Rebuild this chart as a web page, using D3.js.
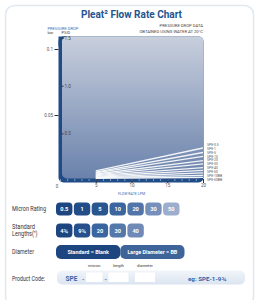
<!DOCTYPE html>
<html>
<head>
<meta charset="utf-8">
<script src="https://cdn.jsdelivr.net/npm/d3@7"></script>
<style>
  body { margin: 0; background: #fff; }
  text { font-family: Roboto, "Open Sans", sans-serif; }
</style>
</head>
<body>
<svg width="260" height="300"></svg>
<script>
// data
const flowTicks = [0, 5, 10, 15, 20];
const barTicks = [0.05, 0.1];
const psiTicks = [0.5, 1, 1.5];
const seriesNames = ['SPE-0.5', 'SPE-1', 'SPE-5', 'SPE-10', 'SPE-20', 'SPE-30', 'SPE-40', 'SPE-50', 'SPE-10BB', 'SPE-50BB'];
const flowPoints = [5, 20];
const dropAt5 = [0.0076, 0.0068, 0.0061, 0.0053, 0.0047, 0.0041, 0.0035, 0.0030, 0.0026, 0.0021];
const dropAt20 = [0.0250, 0.0216, 0.0186, 0.0155, 0.0129, 0.0102, 0.0080, 0.0061, 0.0042, 0.0027];
const micronRatings = ['0.5', '1', '5', '10', '20', '30', '50'];
const standardLengths = ['4¾', '9¾', '20', '30', '40'];
const diameters = ['Standard = Blank', 'Large Diameter = BB'];
const codeFields = ['micron', 'length', 'diameter'];

// styles
const navy = '#1f4b86';
const micronFill = ['#1d4681', '#224d89', '#2a5690', '#3a659e', '#5275a9', '#7690bb', '#9cadcd'];
const lengthFill = ['#1d4681', '#264f8b', '#3a659e', '#5578aa', '#7089b6'];
const diameterFill = ['#1d4681', '#3d6599'];

const svg = d3.select('svg');

const defs = svg.append('defs');
const grad = defs.append('linearGradient').attr('id', 'bg').attr('x1', 0).attr('y1', 0).attr('x2', 0).attr('y2', 1);
grad.append('stop').attr('offset', 0).attr('stop-color', '#c8cfdd');
grad.append('stop').attr('offset', 1).attr('stop-color', '#6a82ab');
const grad2 = defs.append('linearGradient').attr('id', 'code').attr('x1', 0).attr('y1', 0).attr('x2', 0).attr('y2', 1);
grad2.append('stop').attr('offset', 0).attr('stop-color', '#f1f5fa');
grad2.append('stop').attr('offset', 1).attr('stop-color', '#dbe4f0');

// card
svg.append('rect')
  .attr('x', 5.5).attr('y', 5.5).attr('width', 248).attr('height', 300)
  .attr('rx', 9)
  .attr('fill', 'none')
  .attr('stroke', '#e1e8f0')
  .attr('stroke-width', 1.5);

svg.append('text')
  .attr('x', 81).attr('y', 18)
  .attr('textLength', 101).attr('lengthAdjust', 'spacingAndGlyphs')
  .attr('font-family', 'Open Sans')
  .attr('font-weight', 'bold')
  .attr('font-size', 11)
  .attr('fill', '#24548f')
  .text('Pleat² Flow Rate Chart');

// scales
const x = d3.scaleLinear().domain([0, 20]).range([60, 203]);
const yBar = d3.scaleLinear().domain([0, 0.1]).range([181, 49]);
const yPsi = d3.scaleLinear().domain([0, 1.5]).range([181, 38]);

// plot area
svg.append('rect')
  .attr('x', 58.5).attr('y', 36.5).attr('width', 145).attr('height', 146)
  .attr('rx', 5).attr('fill', navy);
svg.append('rect')
  .attr('x', 58.5).attr('y', 36.5).attr('width', 10).attr('height', 10)
  .attr('fill', navy);
svg.append('rect')
  .attr('x', 62).attr('y', 36.5).attr('width', 141.5).attr('height', 142)
  .attr('rx', 5).attr('fill', 'url(#bg)');

// header notes
const small = '#444';
svg.append('text').attr('x', 47.5).attr('y', 29.5).attr('font-size', 4).attr('fill', '#3b6fb6').text('PRESSURE DROP');
svg.append('text').attr('x', 47.5).attr('y', 34).attr('font-size', 4).attr('fill', small).text('bar');
svg.append('text').attr('x', 61.5).attr('y', 34).attr('font-size', 4).attr('fill', small).text('PSID');
svg.append('text').attr('x', 203).attr('y', 27).attr('text-anchor', 'end').attr('font-size', 4.2).attr('fill', small).text('PRESSURE DROP DATA');
svg.append('text').attr('x', 203).attr('y', 33).attr('text-anchor', 'end').attr('font-size', 4.2).attr('fill', small).text('OBTAINED USING WATER AT 20°C');

// bar axis (outside left)
const barAxis = svg.append('g')
  .attr('transform', 'translate(58.5,0)')
  .call(d3.axisLeft(yBar).tickValues(barTicks).tickSize(4).tickPadding(1.5).tickFormat(d3.format('')));
barAxis.select('.domain').remove();
barAxis.selectAll('line').attr('stroke', '#333').attr('stroke-width', 1);
barAxis.selectAll('text').attr('font-size', 4.5).attr('fill', '#555').attr('font-family', 'Roboto');

// psi axis (inside left)
const psiAxis = svg.append('g')
  .attr('transform', 'translate(62,0)')
  .call(d3.axisRight(yPsi).tickValues(psiTicks).tickSize(1.5).tickPadding(1));
psiAxis.select('.domain').remove();
psiAxis.selectAll('line').attr('stroke', '#333');
psiAxis.selectAll('text').attr('font-size', 4.5).attr('fill', '#444').attr('font-family', 'Roboto');

// flow axis
const minor = svg.append('g')
  .attr('transform', 'translate(0,179)')
  .call(d3.axisBottom(x).ticks(20).tickSize(2).tickFormat(''));
minor.select('.domain').remove();
minor.selectAll('line').attr('stroke', '#c8d4e6').attr('stroke-width', 0.6);

const flowAxis = svg.append('g')
  .attr('transform', 'translate(0,179)')
  .call(d3.axisBottom(x).tickValues(flowTicks.slice(1)).tickSize(4).tickPadding(1));
flowAxis.select('.domain').remove();
flowAxis.selectAll('line').attr('stroke', '#333').attr('stroke-width', 1);
flowAxis.selectAll('text').attr('font-size', 4.5).attr('fill', '#555').attr('font-family', 'Roboto');
svg.append('text').attr('x', x(0) - 3).attr('y', 188).attr('text-anchor', 'middle')
  .attr('font-size', 4.5).attr('fill', '#555').text(flowTicks[0]);

svg.append('text').attr('x', x(10)).attr('y', 194.5).attr('text-anchor', 'middle')
  .attr('font-size', 3.6).attr('fill', '#3b6fb6').text('FLOW RATE LPM');

// series lines
const series = seriesNames.map((name, i) => ({
  name,
  values: [dropAt5[i], dropAt20[i]].map((v, j) => ({ flow: flowPoints[j], drop: v }))
}));
const line = d3.line().x(d => x(d.flow)).y(d => yBar(d.drop));
svg.append('g').selectAll('path')
  .data(series)
  .join('path')
  .attr('d', d => line(d.values))
  .attr('fill', 'none')
  .attr('stroke', '#fff')
  .attr('stroke-opacity', 0.9)
  .attr('stroke-width', 1.3);

const labelY = d3.scalePoint().domain(seriesNames).range([144.5, 180]);
svg.append('g').selectAll('text')
  .data(seriesNames)
  .join('text')
  .attr('x', 207)
  .attr('y', d => labelY(d) + 1.2)
  .attr('font-size', 3.4)
  .attr('fill', '#555')
  .text(d => d);

// selector rows
const rowLabel = (y, lines, widths) => {
  const t = svg.append('text').attr('x', 12).attr('y', y).attr('font-size', 6.8).attr('fill', '#333');
  lines.forEach((s, i) => t.append('tspan').attr('x', 12).attr('dy', i ? 7 : 0)
    .attr('textLength', widths[i]).attr('lengthAdjust', 'spacingAndGlyphs').text(s));
};
rowLabel(211, ['Micron Rating'], [34]);
rowLabel(229, ['Standard', 'Lengths(")'], [23, 25.5]);
rowLabel(254, ['Diameter'], [22]);
rowLabel(280.5, ['Product Code:'], [33]);

const btn = d3.scaleBand().domain(d3.range(7)).range([56, 179.5]).paddingInner(0.08);

const drawButtons = (labels, fills, y0, h) => {
  const g = svg.append('g');
  g.selectAll('rect').data(labels).join('rect')
    .attr('x', (d, i) => btn(i)).attr('y', y0)
    .attr('width', btn.bandwidth()).attr('height', h)
    .attr('rx', 4).attr('fill', (d, i) => fills[i]);
  g.selectAll('text').data(labels).join('text')
    .attr('x', (d, i) => btn(i) + btn.bandwidth() / 2)
    .attr('y', y0 + h / 2 + 2)
    .attr('text-anchor', 'middle')
    .attr('font-size', 5.6).attr('font-weight', 'bold')
    .attr('fill', '#fff')
    .text(d => d);
};
drawButtons(micronRatings, micronFill, 202.5, 13);
drawButtons(standardLengths, lengthFill, 223.5, 14);

const dia = d3.scaleBand().domain(diameters).range([56, 184.5]);
svg.append('g').selectAll('rect').data(diameters).join('rect')
  .attr('x', d => dia(d)).attr('y', 245)
  .attr('width', dia.bandwidth()).attr('height', 14)
  .attr('rx', 5).attr('fill', (d, i) => diameterFill[i]);
svg.append('g').selectAll('text').data(diameters).join('text')
  .attr('x', d => dia(d) + dia.bandwidth() / 2).attr('y', 254)
  .attr('text-anchor', 'middle')
  .attr('font-size', 5.4).attr('font-weight', 'bold').attr('fill', '#fff')
  .text(d => d);

// product code
svg.append('rect')
  .attr('x', 57).attr('y', 270.5).attr('width', 188).attr('height', 14)
  .attr('rx', 5).attr('fill', 'url(#code)');
svg.append('text').attr('x', 65.5).attr('y', 280.5).attr('font-size', 6.5).attr('font-weight', 'bold')
  .attr('fill', '#3463a8').attr('font-family', 'Open Sans').text('SPE');
const fieldX = d3.scaleOrdinal().domain(codeFields).range([86, 108.5, 135]);
const fieldW = 20;
svg.append('g').selectAll('rect').data(codeFields).join('rect')
  .attr('x', d => fieldX(d)).attr('y', 272.5)
  .attr('width', (d, i) => i ? fieldW : 16.5).attr('height', 9.5)
  .attr('fill', '#fff');
svg.append('g').selectAll('text').data(codeFields).join('text')
  .attr('x', (d, i) => fieldX(d) + (i ? fieldW : 16.5) / 2).attr('y', 266.5)
  .attr('text-anchor', 'middle')
  .attr('font-size', 4).attr('fill', '#333')
  .text(d => d);
svg.append('text').attr('x', 82).attr('y', 280.5).attr('font-size', 6).attr('font-weight', 'bold').attr('fill', '#3463a8').text('-');
svg.append('text').attr('x', 104.5).attr('y', 280.5).attr('font-size', 6).attr('font-weight', 'bold').attr('fill', '#3463a8').text('-');
svg.append('text').attr('x', 188).attr('y', 280.5).attr('font-size', 6.2).attr('font-weight', 'bold')
  .attr('fill', '#3463a8').attr('font-family', 'Open Sans').text('eg: SPE-1-9¾');
</script>
</body>
</html>
